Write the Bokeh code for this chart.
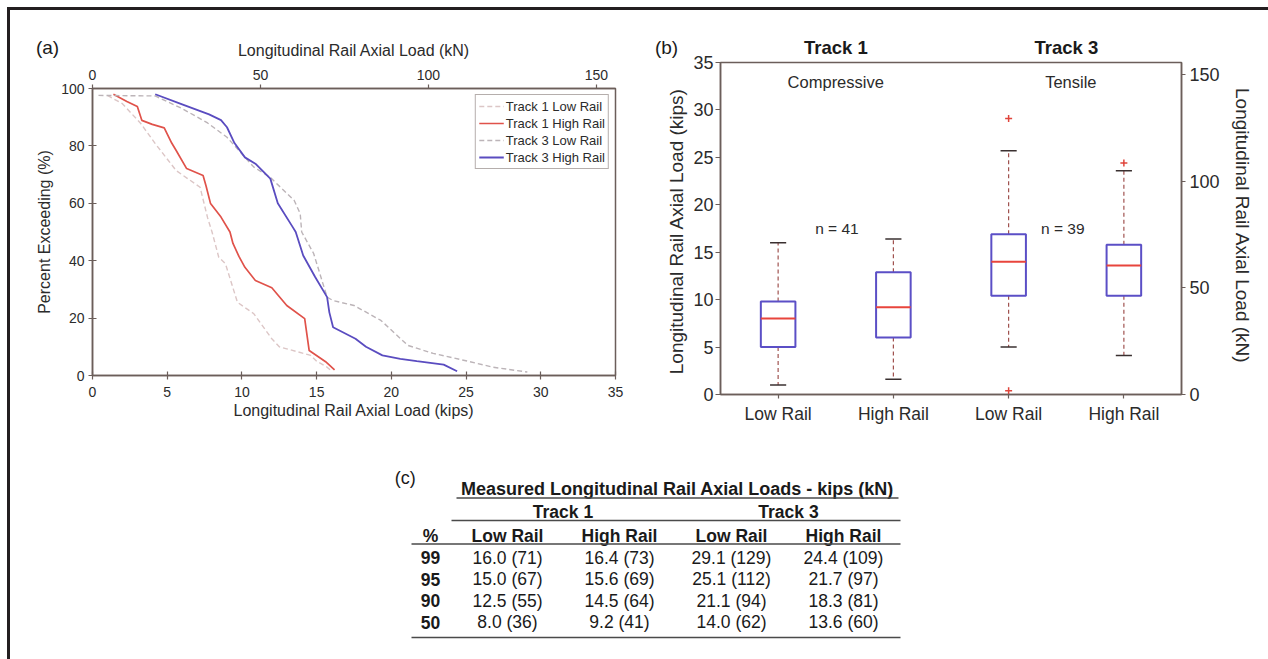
from bokeh.plotting import figure
from bokeh.models import Range1d, LinearAxis, FixedTicker
from bokeh.layouts import column, row
from bokeh.embed import file_html
from bokeh.resources import INLINE
from bokeh.core.properties import value

FONT = "Liberation Sans"
KN_PER_KIP = 4.448
AX = "#6b5e5a"
TXT = "#2b2b2b"
DARK = "#1a1a1a"

# ---------------- (a) percent-exceeding curves ----------------
t1_low_load = [1.0, 2.0, 3.2, 4.2, 5.6, 7.2, 7.7, 8.0, 8.45, 8.9, 9.7, 10.8, 12.0, 12.5, 13.0, 14.6, 15.0, 15.7, 16.0]
t1_low_pct = [97.6, 94.7, 88.0, 80.8, 71.4, 65.6, 55.0, 50.0, 41.2, 38.9, 25.5, 21.5, 12.8, 10.0, 9.3, 7.0, 5.0, 2.9, 1.5]

t1_high_load = [1.4, 2.3, 3.0, 3.3, 4.0, 4.8, 5.3, 5.6, 6.3, 7.4, 7.6, 7.9, 8.6, 9.2, 9.4, 9.8, 10.2, 10.9, 12.0, 13.0, 14.2, 14.5, 15.6, 16.2]
t1_high_pct = [98.0, 95.5, 93.7, 88.9, 87.5, 86.3, 81.0, 78.4, 72.1, 69.7, 66.0, 59.9, 55.2, 50.0, 46.0, 41.5, 37.7, 33.1, 30.6, 24.4, 19.8, 8.7, 4.8, 2.0]

t3_low_load = [0.4, 4.2, 6.0, 7.7, 9.0, 10.8, 11.9, 13.5, 13.9, 14.0, 14.8, 15.7, 16.1, 17.5, 19.3, 21.1, 22.8, 25.1, 26.8, 29.1]
t3_low_pct = [97.6, 97.4, 93.0, 88.0, 83.0, 72.6, 69.0, 61.0, 56.4, 50.0, 42.5, 27.3, 26.1, 24.4, 19.2, 10.5, 7.7, 5.0, 2.9, 1.2]

t3_high_load = [4.2, 6.0, 7.8, 8.6, 9.0, 9.5, 10.2, 10.9, 11.9, 12.4, 13.4, 13.6, 14.1, 14.9, 15.7, 15.85, 16.1, 17.6, 18.3, 19.4, 20.6, 21.7, 23.5, 24.4]
t3_high_pct = [98.0, 94.5, 91.0, 89.0, 86.5, 81.0, 76.0, 73.8, 68.6, 60.0, 51.7, 50.0, 41.8, 34.3, 27.3, 22.0, 16.8, 12.8, 10.0, 7.0, 5.8, 5.0, 3.8, 1.5]

kips_ticks_a = [0, 5, 10, 15, 20, 25, 30, 35]
pct_ticks = [0, 20, 40, 60, 80, 100]
kn_ticks = [0, 50, 100, 150]

# ---------------- (b) box plot ----------------
box_labels = ["Low Rail", "High Rail", "Low Rail", "High Rail"]
whisker_low = [1.0, 1.6, 5.0, 4.1]
quart_1 = [5.0, 6.0, 10.4, 10.4]
median = [8.0, 9.2, 14.0, 13.6]
quart_3 = [9.8, 12.9, 16.9, 15.8]
whisker_high = [16.0, 16.4, 25.7, 23.6]
outlier_box = [3, 3, 4]
outlier_val = [29.1, 0.4, 24.4]
kips_ticks_b = [0, 5, 10, 15, 20, 25, 30, 35]

# ---------------- (c) table ----------------
table_title = "Measured Longitudinal Rail Axial Loads - kips (kN)"
track_names = ["Track 1", "Track 3"]
col_names = ["Low Rail", "High Rail", "Low Rail", "High Rail"]
pct_rows = ["99", "95", "90", "50"]
t1_low_kips = [16.0, 15.0, 12.5, 8.0]
t1_low_kn = [71, 67, 55, 36]
t1_high_kips = [16.4, 15.6, 14.5, 9.2]
t1_high_kn = [73, 69, 64, 41]
t3_low_kips = [29.1, 25.1, 21.1, 14.0]
t3_low_kn = [129, 112, 94, 62]
t3_high_kips = [24.4, 21.7, 18.3, 13.6]
t3_high_kn = [109, 97, 81, 60]


def style_axis(ax, tick_fs, label_fs, standoff, label_standoff, t_in, t_out):
    ax.axis_line_color = AX
    ax.axis_line_width = 1.5
    ax.major_tick_line_color = AX
    ax.major_tick_line_width = 1.2
    ax.major_tick_in = t_in
    ax.major_tick_out = t_out
    ax.minor_tick_line_color = None
    ax.major_label_text_font = FONT
    ax.major_label_text_font_size = tick_fs
    ax.major_label_text_color = TXT
    ax.major_label_standoff = standoff
    ax.axis_label_text_font = FONT
    ax.axis_label_text_font_size = label_fs
    ax.axis_label_text_font_style = "normal"
    ax.axis_label_text_color = TXT
    ax.axis_label_standoff = label_standoff


def blank_fig(width, height, x0, x1, y0, y1):
    f = figure(width=width, height=height, x_range=Range1d(x0, x1), y_range=Range1d(y1, y0),
               output_backend="svg", toolbar_location=None, title=None,
               x_axis_location=None, y_axis_location=None, min_border=0)
    f.xgrid.grid_line_color = None
    f.ygrid.grid_line_color = None
    f.outline_line_color = None
    f.frame_align = False
    return f


# ================= header strip (page coordinates) =================
ps = blank_fig(1258, 50, 10, 1268, 10, 60)
ps.text(x=[47, 666], y=[47, 47], text=["(a)", "(b)"], text_font=value(FONT), text_font_size="19px",
        text_color=DARK, text_align="center", text_baseline="middle")
ps.text(x=[353.5], y=[50], text=["Longitudinal Rail Axial Load (kN)"], text_font=value(FONT),
        text_font_size="16px", text_color=TXT, text_align="center", text_baseline="middle")
ps.text(x=[835.3, 1065.8], y=[47, 47], text=track_names, text_font=value(FONT), text_font_size="18.5px",
        text_font_style="bold", text_color=DARK, text_align="center", text_baseline="middle")

# ================= panel (a) =================
pa = figure(width=640, height=380, x_range=Range1d(0, 35), y_range=Range1d(0, 100),
            output_backend="svg", toolbar_location=None, title=None,
            min_border_left=82, min_border_right=35, min_border_top=28, min_border_bottom=65)
pa.frame_align = False
pa.xgrid.grid_line_color = None
pa.ygrid.grid_line_color = None
pa.outline_line_color = AX
pa.outline_line_width = 1.5
pa.outline_line_alpha = 1.0

pa.xaxis.ticker = FixedTicker(ticks=kips_ticks_a)
pa.yaxis.ticker = FixedTicker(ticks=pct_ticks)
pa.xaxis.axis_label = "Longitudinal Rail Axial Load (kips)"
pa.yaxis.axis_label = "Percent Exceeding (%)"
style_axis(pa.xaxis[0], "14px", "16px", 7, 2, 4, 4)
style_axis(pa.yaxis[0], "14px", "16px", 4, 5, 4, 4)

pa.extra_x_ranges = {"kN": Range1d(0, 35 * KN_PER_KIP)}
top_ax = LinearAxis(x_range_name="kN", ticker=FixedTicker(ticks=kn_ticks))
style_axis(top_ax, "14px", "16px", 5, 4, 0, 4)
pa.add_layout(top_ax, "above")

pa.line(t1_low_load, t1_low_pct, line_color="#dcc6c6", line_width=1.4, line_dash="5 3",
        legend_label="Track 1 Low Rail")
pa.line(t1_high_load, t1_high_pct, line_color="#e0524a", line_width=1.7,
        legend_label="Track 1 High Rail")
pa.line(t3_low_load, t3_low_pct, line_color="#bcb4b8", line_width=1.4, line_dash="5 3",
        legend_label="Track 3 Low Rail")
pa.line(t3_high_load, t3_high_pct, line_color="#5a4cc0", line_width=1.8,
        legend_label="Track 3 High Rail")

lg = pa.legend[0]
lg.location = "top_right"
lg.margin = 6
lg.padding = 3
lg.spacing = 1
lg.label_height = 16
lg.glyph_height = 16
lg.glyph_width = 25
lg.label_standoff = 2
lg.label_text_font = FONT
lg.label_text_font_size = "13px"
lg.label_text_color = TXT
lg.border_line_color = AX
lg.border_line_width = 1.2
lg.background_fill_alpha = 1.0

# ================= panel (b) =================
# canvas pulled up 22px over the header strip (transparent border) so the top tick label fits
pos = list(range(1, len(box_labels) + 1))
pb = figure(width=618, height=402, x_range=Range1d(0.5, len(box_labels) + 0.5), y_range=Range1d(0, 35),
            output_backend="svg", toolbar_location=None, title=None, margin=(-22, 0, 0, 0),
            min_border_left=70, min_border_right=87, min_border_top=24, min_border_bottom=46)
pb.frame_align = False
pb.border_fill_color = None
pb.xgrid.grid_line_color = None
pb.ygrid.grid_line_color = None
pb.outline_line_color = AX
pb.outline_line_width = 1.5
pb.outline_line_alpha = 1.0

pb.xaxis.ticker = FixedTicker(ticks=pos)
pb.xaxis.major_label_overrides = {p: lab for p, lab in zip(pos, box_labels)}
pb.yaxis.ticker = FixedTicker(ticks=kips_ticks_b)
pb.yaxis.axis_label = "Longitudinal Rail Axial Load  (kips)"
style_axis(pb.xaxis[0], "17.5px", "19px", 5, 3, 0, 4)
style_axis(pb.yaxis[0], "18px", "19px", 2, 3, 0, 5)

pb.extra_y_ranges = {"kN": Range1d(0, 35 * KN_PER_KIP)}
right_ax = LinearAxis(y_range_name="kN", ticker=FixedTicker(ticks=kn_ticks),
                      axis_label="Longitudinal Rail Axial Load  (kN)")
style_axis(right_ax, "18px", "19px", 4, 9, 0, 4)
pb.add_layout(right_ax, "right")

BW = 0.3
CW = 0.14
pb.segment(x0=pos, y0=quart_3, x1=pos, y1=whisker_high, line_color="#a0524f", line_width=1.2, line_dash="4 3")
pb.segment(x0=pos, y0=quart_1, x1=pos, y1=whisker_low, line_color="#a0524f", line_width=1.2, line_dash="4 3")
pb.segment(x0=[p - CW / 2 for p in pos], y0=whisker_high, x1=[p + CW / 2 for p in pos], y1=whisker_high,
           line_color="#3a3030", line_width=1.5)
pb.segment(x0=[p - CW / 2 for p in pos], y0=whisker_low, x1=[p + CW / 2 for p in pos], y1=whisker_low,
           line_color="#3a3030", line_width=1.5)
pb.vbar(x=pos, bottom=quart_1, top=quart_3, width=BW, fill_color=None, line_color="#5b4fc6", line_width=2)
pb.segment(x0=[p - BW / 2 for p in pos], y0=median, x1=[p + BW / 2 for p in pos], y1=median,
           line_color="#e8453c", line_width=2)
pb.scatter(x=outlier_box, y=outlier_val, marker="cross", size=7, line_color="#e0453c", line_width=1.5)

pb.text(x=[1.5, 3.54], y=[32.9, 32.9], text=["Compressive", "Tensile"], text_font=value(FONT),
        text_font_size="16.5px", text_color=TXT, text_align="center", text_baseline="middle")
pb.text(x=[1.51, 3.47], y=[17.5, 17.5], text=["n = 41", "n = 39"], text_font=value(FONT),
        text_font_size="15.5px", text_color=TXT, text_align="center", text_baseline="middle")

# ================= panel (c) table (page coordinates) =================
pc = blank_fig(1258, 219, 10, 1268, 440, 659)

col_x = [507, 619, 731, 843]
row_y = [557, 578.5, 600, 621.5]
pct_x = 430
FS = "17.5px"

pc.text(x=[404.8], y=[477], text=["(c)"], text_font=value(FONT), text_font_size="18px",
        text_color=DARK, text_align="center", text_baseline="middle")
pc.text(x=[677], y=[488], text=[table_title], text_font=value(FONT), text_font_size="18px",
        text_font_style="bold", text_color=DARK, text_align="center", text_baseline="middle")
pc.text(x=[562.5, 788], y=[511, 511], text=track_names, text_font=value(FONT), text_font_size=FS,
        text_font_style="bold", text_color=DARK, text_align="center", text_baseline="middle")
pc.text(x=[pct_x] + col_x, y=[535] * 5, text=["%"] + col_names, text_font=value(FONT),
        text_font_size=FS, text_font_style="bold", text_color=DARK, text_align="center",
        text_baseline="middle")
pc.text(x=[pct_x] * 4, y=row_y, text=pct_rows, text_font=value(FONT), text_font_size=FS,
        text_font_style="bold", text_color=DARK, text_align="center", text_baseline="middle")

cols = [(t1_low_kips, t1_low_kn), (t1_high_kips, t1_high_kn), (t3_low_kips, t3_low_kn), (t3_high_kips, t3_high_kn)]
for cx, (kv, nv) in zip(col_x, cols):
    pc.text(x=[cx] * len(kv), y=row_y, text=[f"{k:.1f} ({n})" for k, n in zip(kv, nv)],
            text_font=value(FONT), text_font_size=FS, text_color=DARK,
            text_align="center", text_baseline="middle")

pc.segment(x0=[456, 451, 411, 411], y0=[497.5, 520, 543.5, 637], x1=[898, 900, 900, 900],
           y1=[497.5, 520, 543.5, 637], line_color="#4a4a4a", line_width=1.4)

layout = column(ps, row(pa, pb), pc, margin=(7, 0, 0, 7),
                styles={"border-top": "3px solid #231f20", "border-left": "3px solid #231f20"})

open("out.html", "w").write(file_html(layout, INLINE))
